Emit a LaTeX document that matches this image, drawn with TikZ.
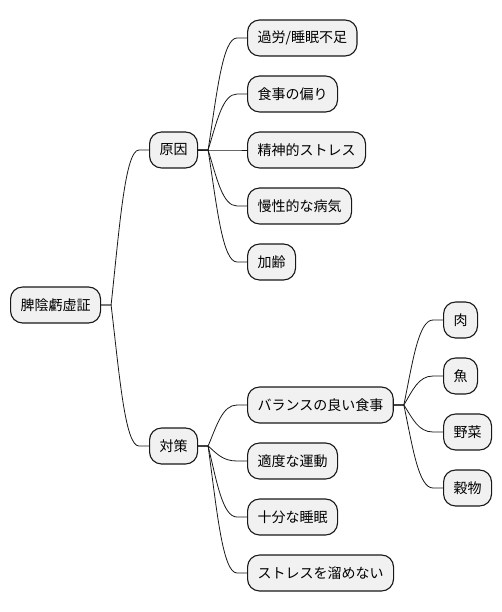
\documentclass[tikz,border=0pt]{standalone}
\usepackage{fontspec}
\setmainfont{Noto Sans CJK JP}
\usetikzlibrary{calc}
\definecolor{boxfill}{HTML}{F1F1F1}
\definecolor{boxline}{HTML}{181818}
\newcommand\mmlink[2]{%
  \draw[link] let \p1=(#1.east), \p2=(#2.west),
      \n1={\x1+10}, \n2={\x2-10} in
    (\p1) -- (\n1,\y1) .. controls ({\n1+0.3*(\n2-\n1)},{\y1+0.5*(\y2-\y1)}) and ({\n1+0.5*(\n2-\n1)},\y2) .. (\n2,\y2) -- (\p2);}
\begin{document}
\begin{tikzpicture}[x=1pt,y=-1pt,
  box/.style={draw=boxline, fill=boxfill, rounded corners=12pt, line width=1.1pt,
    minimum height=36pt, inner xsep=10pt, inner ysep=0pt, anchor=west,
    font=\fontsize{14}{16}\selectfont},
  link/.style={draw=boxline, line width=0.8pt}]
\useasboundingbox (0,0) rectangle (502,612);
\node[box] (root) at (10,305) {脾陰虧虚証};
\node[box] (c1) at (149,150) {原因};
\node[box] (c2) at (149,446) {対策};
\node[box] (a1) at (247,38) {過労/睡眠不足};
\node[box] (a2) at (247,94) {食事の偏り};
\node[box] (a3) at (247,150) {精神的ストレス};
\node[box] (a4) at (247,206) {慢性的な病気};
\node[box] (a5) at (247,262) {加齢};
\node[box] (b1) at (247,405) {バランスの良い食事};
\node[box] (b2) at (247,461) {適度な運動};
\node[box] (b3) at (247,517) {十分な睡眠};
\node[box] (b4) at (247,573) {ストレスを溜めない};
\node[box] (d1) at (443,320) {肉};
\node[box] (d2) at (443,376) {魚};
\node[box] (d3) at (443,432) {野菜};
\node[box] (d4) at (443,488) {穀物};
\mmlink{root}{c1}
\mmlink{root}{c2}
\mmlink{c1}{a1}
\mmlink{c1}{a2}
\mmlink{c1}{a3}
\mmlink{c1}{a4}
\mmlink{c1}{a5}
\mmlink{c2}{b1}
\mmlink{c2}{b2}
\mmlink{c2}{b3}
\mmlink{c2}{b4}
\mmlink{b1}{d1}
\mmlink{b1}{d2}
\mmlink{b1}{d3}
\mmlink{b1}{d4}
\end{tikzpicture}
\end{document}
